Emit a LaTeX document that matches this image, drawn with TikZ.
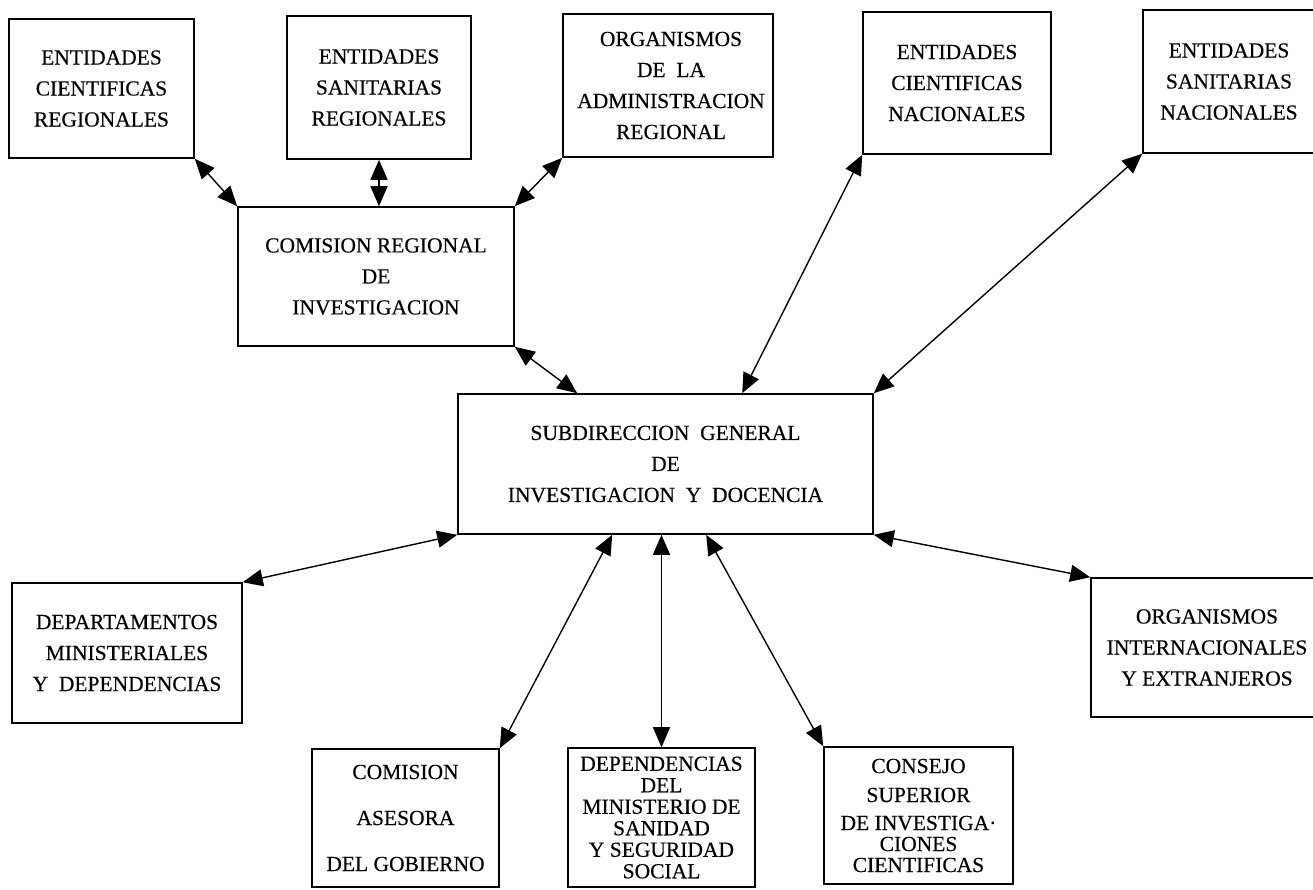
\documentclass[tikz,border=0pt]{standalone}
\usepackage{fontspec}
\setmainfont{Liberation Serif}
\newfontfamily\boxfont{Liberation Serif}[FakeBold=0.35]
\usetikzlibrary{arrows.meta,calc}
\begin{document}
\begin{tikzpicture}[x=1pt,y=-1pt,
  box/.style={draw, line width=1.6pt, inner sep=0pt, align=center,
    font=\boxfont\fontsize{21.5}{31}\selectfont},
  link/.style={line width=1.4pt,
    {Triangle[length=20pt,width=17pt]}-{Triangle[length=20pt,width=17pt]}}]
\useasboundingbox (0,0) rectangle (1313,889);
% top row
\node[box, minimum width=185pt, minimum height=139pt] (b1) at (101.5,88.5)
  {ENTIDADES\\CIENTIFICAS\\REGIONALES};
\node[box, minimum width=184pt, minimum height=143pt] (b2) at (379,87.5)
  {ENTIDADES\\SANITARIAS\\REGIONALES};
\node[box, minimum width=210pt, minimum height=143pt] (b3) at (668,85.5)
  {\hspace*{6pt}ORGANISMOS\\\hspace*{6pt}DE\ \ LA\\\hspace*{6pt}ADMINISTRACION\\\hspace*{6pt}REGIONAL};
\node[box, minimum width=188pt, minimum height=142pt] (b4) at (957,83)
  {ENTIDADES\\CIENTIFICAS\\NACIONALES};
\node[box, minimum width=172pt, minimum height=143pt] (b5) at (1229,81.5)
  {ENTIDADES\\SANITARIAS\\NACIONALES};
% middle
\node[box, minimum width=276pt, minimum height=139pt] (b6) at (376,276.5)
  {COMISION\ REGIONAL\\DE\\INVESTIGACION};
\node[box, minimum width=415pt, minimum height=140pt] (b7) at (665.5,464)
  {SUBDIRECCION\ \ GENERAL\\DE\\INVESTIGACION\ \ Y\ \ DOCENCIA};
% lower
\node[box, minimum width=230pt, minimum height=140pt] (b8) at (127,653)
  {DEPARTAMENTOS\\MINISTERIALES\\Y\ \ DEPENDENCIAS};
\node[box, minimum width=232pt, minimum height=139pt] (b9) at (1207,647.5)
  {ORGANISMOS\\INTERNACIONALES\\Y\ EXTRANJEROS};
\node[box, minimum width=187pt, minimum height=138pt,
  font=\boxfont\fontsize{21.5}{46}\selectfont] (b10) at (405.5,818)
  {COMISION\\ASESORA\\DEL\ GOBIERNO};
\node[box, minimum width=187pt, minimum height=139pt,
  font=\boxfont\fontsize{21.5}{21.5}\selectfont] (b11) at (661.5,817.5)
  {DEPENDENCIAS\\DEL\\MINISTERIO DE\\SANIDAD\\Y SEGURIDAD\\SOCIAL};
\node[box, minimum width=189pt, minimum height=137pt,
  font=\boxfont\fontsize{21.5}{21}\selectfont] (b12) at (918.5,815.5)
  {CONSEJO\\[8pt]SUPERIOR\\[7pt]DE INVESTIGA·\\CIONES\\CIENTIFICAS};
% connectors
\draw[link] (b1.south east) -- (b6.north west);
\draw[link] (b2.south) -- (b2.south |- b6.north);
\draw[link] (b3.south west) -- (b6.north east);
\draw[link] (b6.south east) -- ([xshift=120pt]b7.north west);
\draw[link] (b4.south west) -- ([xshift=285pt]b7.north west);
\draw[link] (b5.south west) -- (b7.north east);
\draw[link] (b7.south west) -- (b8.north east);
\draw[link] (b7.south east) -- (b9.north west);
\draw[link] ([xshift=155pt]b7.south west) -- (b10.north east);
\draw[link] (b11.north |- b7.south) -- (b11.north);
\draw[link] ([xshift=249pt]b7.south west) -- (b12.north west);
\end{tikzpicture}
\end{document}
